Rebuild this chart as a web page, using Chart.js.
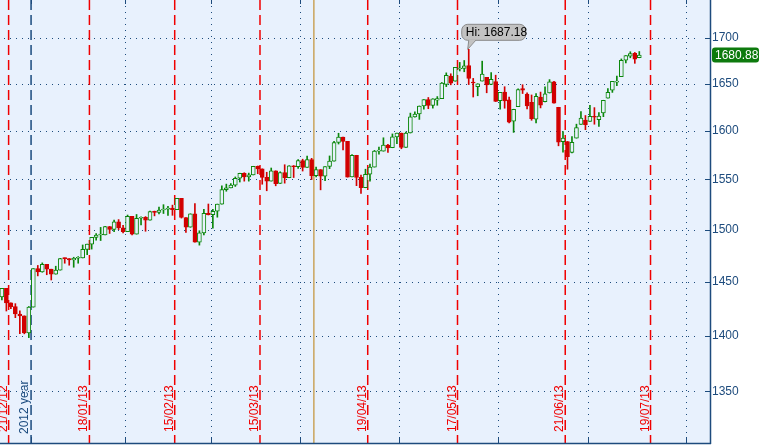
<!DOCTYPE html>
<html>
<head>
<meta charset="utf-8">
<script src="https://cdn.jsdelivr.net/npm/chart.js@4.4.0/dist/chart.umd.min.js"></script>
<style>
  html, body { margin: 0; padding: 0; background: #fff; overflow: hidden; }
  canvas { display: block; }
</style>
</head>
<body>
<canvas id="chart" width="761" height="446"></canvas>
<script>
// daily candles, 20/12/12 .. 17/07/13
const dates = [
  '20/12/12','21/12/12','24/12/12','26/12/12','27/12/12','28/12/12','31/12/12',
  '02/01/13','03/01/13','04/01/13','07/01/13','08/01/13','09/01/13','10/01/13','11/01/13','14/01/13','15/01/13','16/01/13','17/01/13','18/01/13','22/01/13','23/01/13','24/01/13','25/01/13','28/01/13','29/01/13','30/01/13','31/01/13',
  '01/02/13','04/02/13','05/02/13','06/02/13','07/02/13','08/02/13','11/02/13','12/02/13','13/02/13','14/02/13','15/02/13','19/02/13','20/02/13','21/02/13','22/02/13','25/02/13','26/02/13','27/02/13','28/02/13',
  '01/03/13','04/03/13','05/03/13','06/03/13','07/03/13','08/03/13','11/03/13','12/03/13','13/03/13','14/03/13','15/03/13','18/03/13','19/03/13','20/03/13','21/03/13','22/03/13','25/03/13','26/03/13','27/03/13','28/03/13',
  '01/04/13','02/04/13','03/04/13','04/04/13','05/04/13','08/04/13','09/04/13','10/04/13','11/04/13','12/04/13','15/04/13','16/04/13','17/04/13','18/04/13','19/04/13','22/04/13','23/04/13','24/04/13','25/04/13','26/04/13','29/04/13','30/04/13',
  '01/05/13','02/05/13','03/05/13','06/05/13','07/05/13','08/05/13','09/05/13','10/05/13','13/05/13','14/05/13','15/05/13','16/05/13','17/05/13','20/05/13','21/05/13','22/05/13','23/05/13','24/05/13','28/05/13','29/05/13','30/05/13','31/05/13',
  '03/06/13','04/06/13','05/06/13','06/06/13','07/06/13','10/06/13','11/06/13','12/06/13','13/06/13','14/06/13','17/06/13','18/06/13','19/06/13','20/06/13','21/06/13','24/06/13','25/06/13','26/06/13','27/06/13','28/06/13',
  '01/07/13','02/07/13','03/07/13','05/07/13','08/07/13','09/07/13','10/07/13','11/07/13','12/07/13','15/07/13','16/07/13','17/07/13'
];
const open = [
  1435.81,1443.67,1430.15,1426.66,1419.83,1418.10,1402.43,
  1426.19,1462.42,1459.37,1466.47,1461.89,1457.15,1461.02,1472.12,1472.05,1470.67,1472.33,1472.63,1480.95,1485.98,1492.56,1494.81,1494.82,1502.96,1500.18,1507.84,1501.96,
  1498.11,1513.17,1495.71,1511.29,1512.12,1509.39,1517.93,1517.01,1519.43,1520.33,1521.38,1519.79,1530.94,1511.95,1502.42,1515.60,1487.85,1496.94,1515.99,
  1514.68,1518.20,1525.20,1539.79,1541.46,1544.26,1551.15,1556.22,1552.48,1554.52,1563.21,1560.70,1552.10,1548.34,1558.71,1545.90,1556.89,1551.69,1563.75,1562.86,
  1569.18,1562.17,1570.25,1553.69,1559.98,1553.26,1563.11,1568.61,1587.73,1593.30,1588.84,1552.53,1574.57,1552.03,1541.61,1555.25,1562.50,1578.78,1578.78,1585.16,1582.34,1593.58,
  1597.55,1582.77,1597.60,1614.40,1617.55,1625.95,1632.69,1626.69,1632.10,1633.75,1649.13,1658.07,1652.45,1665.71,1666.20,1669.39,1651.62,1646.67,1652.63,1656.57,1649.14,1652.13,
  1631.71,1640.73,1632.40,1609.94,1625.27,1644.67,1638.64,1629.94,1612.15,1635.52,1630.64,1639.77,1651.83,1624.62,1588.62,1588.77,1577.52,1592.27,1606.44,1611.12,
  1609.78,1614.29,1611.48,1618.65,1634.20,1642.89,1651.56,1657.41,1675.26,1679.59,1682.70,1677.91
];
const high = [
  1443.70,1443.70,1430.15,1429.42,1422.80,1418.10,1426.74,
  1462.43,1465.47,1467.94,1466.47,1461.89,1464.73,1472.30,1472.75,1472.05,1473.31,1473.96,1485.16,1485.98,1492.56,1496.13,1502.27,1503.26,1503.23,1509.35,1509.94,1504.19,
  1514.41,1513.17,1514.96,1512.53,1512.90,1518.31,1518.31,1522.29,1524.69,1523.14,1524.24,1530.94,1530.94,1511.95,1515.64,1525.84,1498.99,1520.08,1525.34,
  1519.99,1525.27,1543.47,1545.25,1545.78,1552.48,1556.27,1556.77,1556.39,1563.32,1563.62,1560.70,1557.25,1561.56,1558.71,1557.74,1564.91,1563.95,1564.07,1570.28,
  1570.57,1573.66,1571.47,1562.60,1559.98,1563.07,1573.89,1589.07,1597.35,1593.30,1588.84,1575.35,1574.57,1554.38,1560.33,1565.55,1579.58,1583.00,1592.64,1585.78,1596.65,1597.57,
  1597.55,1598.60,1618.46,1619.77,1626.03,1632.78,1635.01,1633.70,1636.00,1651.10,1661.49,1660.51,1667.47,1672.84,1674.93,1687.18,1655.50,1649.78,1674.21,1656.57,1661.91,1658.99,
  1640.42,1646.53,1635.53,1622.56,1644.40,1648.69,1640.13,1637.71,1639.25,1640.80,1646.50,1654.19,1652.45,1624.62,1599.19,1588.77,1593.79,1606.83,1620.07,1615.94,
  1626.61,1624.26,1618.97,1632.07,1644.68,1652.36,1657.92,1676.63,1680.19,1684.51,1683.73,1684.75
];
const low = [
  1432.82,1422.58,1424.66,1416.43,1401.80,1401.58,1398.11,
  1426.19,1455.53,1458.99,1456.62,1451.64,1457.15,1461.02,1467.58,1465.69,1463.76,1467.60,1472.63,1475.81,1481.16,1489.90,1489.46,1494.82,1496.33,1498.09,1500.11,1496.76,
  1498.11,1495.02,1495.71,1504.71,1498.49,1509.39,1513.61,1515.61,1515.93,1514.02,1514.14,1519.79,1511.41,1497.29,1502.42,1487.85,1485.01,1494.88,1514.46,
  1501.48,1512.29,1525.20,1538.11,1541.46,1542.94,1547.36,1548.24,1548.25,1554.52,1555.74,1545.13,1538.57,1548.34,1543.55,1545.90,1546.22,1551.69,1551.90,1561.08,
  1558.47,1562.17,1549.80,1552.52,1539.50,1548.63,1560.92,1568.61,1586.17,1579.97,1552.28,1552.53,1543.69,1536.03,1541.61,1548.19,1562.50,1575.80,1578.78,1577.56,1582.34,1586.50,
  1581.28,1582.77,1597.60,1614.21,1611.82,1622.70,1623.09,1623.71,1626.74,1633.75,1646.68,1648.60,1652.45,1663.52,1662.67,1648.86,1635.53,1636.88,1652.63,1640.05,1648.61,1630.74,
  1622.72,1623.62,1608.07,1598.23,1625.27,1639.26,1622.92,1610.92,1608.07,1623.96,1630.34,1639.77,1628.91,1584.32,1577.70,1560.33,1577.09,1592.27,1606.44,1601.06,
  1609.78,1606.77,1604.57,1614.71,1634.20,1640.46,1647.66,1657.41,1672.33,1677.89,1671.84,1677.91
];
const close = [
  1443.69,1430.15,1426.66,1419.83,1418.10,1402.43,1426.19,
  1462.42,1459.37,1466.47,1461.89,1457.15,1461.02,1472.12,1472.05,1470.68,1472.34,1472.63,1480.94,1485.98,1492.56,1494.81,1494.82,1502.96,1500.18,1507.84,1501.96,1498.11,
  1513.17,1495.71,1511.29,1512.12,1509.39,1517.93,1517.01,1519.43,1520.33,1521.38,1519.79,1530.94,1511.95,1502.42,1515.60,1487.85,1496.94,1515.99,1514.68,
  1518.20,1525.20,1539.79,1541.46,1544.26,1551.18,1556.22,1552.48,1554.52,1563.23,1560.70,1552.10,1548.34,1558.71,1545.80,1556.89,1551.69,1563.77,1562.85,1569.19,
  1562.17,1570.25,1553.69,1559.98,1553.28,1563.07,1568.61,1587.73,1593.37,1588.85,1552.36,1574.57,1552.01,1541.61,1555.25,1562.50,1578.78,1578.79,1585.16,1582.24,1593.61,1597.57,
  1582.70,1597.59,1614.42,1617.50,1625.96,1632.69,1626.67,1633.70,1633.77,1650.34,1658.78,1650.47,1667.47,1666.29,1669.16,1655.35,1650.51,1649.60,1660.06,1648.36,1654.41,1630.74,
  1640.42,1631.38,1608.90,1622.56,1643.38,1642.81,1626.13,1612.52,1636.36,1626.73,1639.04,1651.81,1628.93,1588.19,1592.43,1573.09,1588.03,1603.26,1613.20,1606.28,
  1614.96,1614.08,1615.41,1631.89,1640.46,1652.32,1652.62,1675.02,1680.19,1682.50,1676.26,1680.88
];

// axis ticks and markers (trading-day index, 0 = 21/12/12)
const yTicks = [1350, 1400, 1450, 1500, 1550, 1600, 1650, 1700];
const expiryIdx = [0, 18, 37, 56, 80, 100, 124, 143];
const expiryLabels = ['21/12/12', '18/01/13', '15/02/13', '15/03/13', '19/04/13', '17/05/13', '21/06/13', '19/07/13'];
const monthEndIdx = [26, 45, 65, 87, 109, 129, 151];
const yearIdx = 5;
const yearLabel = '2012 year';
const markerIdx = 68;

const FONT = "'Liberation Sans', Arial, sans-serif";
const PLOT_BG = '#e8f1fd';
const AXIS = '#1d4b7d';
const UP = '#0a870a';
const DOWN = '#d20000';

const xs = dates.map((d, i) => i - 1);
const isUp = close.map((c, i) => c >= open[i]);

const decor = {
  id: 'decor',
  beforeDraw(chart) {
    const { ctx, chartArea: a } = chart;
    ctx.save();
    ctx.fillStyle = PLOT_BG;
    ctx.fillRect(a.left, a.top, a.right - a.left, a.bottom - a.top);
    ctx.restore();
  },
  beforeDatasetsDraw(chart) {
    const { ctx, chartArea: a, scales: { x, y } } = chart;
    const line = (x1, y1, x2, y2) => { ctx.beginPath(); ctx.moveTo(x1, y1); ctx.lineTo(x2, y2); ctx.stroke(); };
    const px = i => x.getPixelForValue(i + 0.5);
    ctx.save();

    // dotted grid
    ctx.strokeStyle = AXIS;
    ctx.lineWidth = 1;
    ctx.setLineDash([1, 5]);
    yTicks.forEach(v => {
      const py = Math.round(y.getPixelForValue(v)) + 0.5;
      line(4, py, a.right - 12, py);
    });
    monthEndIdx.forEach(i => {
      const p = Math.round(px(i)) + 0.5;
      line(p, a.top + 6, p, a.bottom - 6);
    });

    // option expiry lines
    ctx.setLineDash([10, 5]);
    ctx.strokeStyle = '#f00000';
    ctx.lineWidth = 1.5;
    expiryIdx.forEach(i => line(px(i), a.top, px(i), a.bottom));

    // year line
    ctx.strokeStyle = '#1a4a7e';
    line(px(yearIdx), a.top, px(yearIdx), a.bottom);

    // marker line
    ctx.setLineDash([]);
    ctx.strokeStyle = '#c9a35c';
    line(px(markerIdx), a.top, px(markerIdx), a.bottom);

    // rotated labels
    ctx.font = '12px ' + FONT;
    ctx.textAlign = 'left';
    ctx.textBaseline = 'alphabetic';
    const vlabel = (text, xx, yy, color) => {
      ctx.save();
      ctx.translate(xx, yy);
      ctx.rotate(-Math.PI / 2);
      ctx.fillStyle = color;
      ctx.fillText(text, 0, 0);
      ctx.restore();
    };
    expiryIdx.forEach((i, k) => vlabel(expiryLabels[k], px(i) - 2, 432, '#f00000'));
    vlabel(yearLabel, px(yearIdx) - 3, 434, '#1a4a7e');
    ctx.restore();
  },
  afterDatasetsDraw(chart) {
    const { ctx, chartArea: a, scales: { x, y } } = chart;
    const line = (x1, y1, x2, y2) => { ctx.beginPath(); ctx.moveTo(x1, y1); ctx.lineTo(x2, y2); ctx.stroke(); };
    ctx.save();

    // axes
    ctx.strokeStyle = AXIS;
    ctx.lineWidth = 1.5;
    line(a.right + 0.5, a.top, a.right + 0.5, a.bottom + 1);
    line(a.left, a.bottom + 0.5, a.right + 1, a.bottom + 0.5);
    ctx.lineWidth = 1;
    yTicks.forEach(v => {
      const py = Math.round(y.getPixelForValue(v)) + 0.5;
      line(a.right - 5, py, a.right, py);
    });
    monthEndIdx.concat([yearIdx]).forEach(i => {
      const p = Math.round(x.getPixelForValue(i + 0.5)) + 0.5;
      line(p, a.bottom - 6, p, a.bottom);
      line(p, a.top, p, a.top + 4);
    });

    // high callout
    let hi = 0;
    high.forEach((h, i) => { if (h > high[hi]) hi = i; });
    const tx = x.getPixelForValue(xs[hi]);
    const ty = y.getPixelForValue(high[hi]);
    const bx = tx - 7, by = ty - 25, bw = 64, bh = 16;
    ctx.beginPath();
    ctx.roundRect(bx, by, bw, bh, 6);
    ctx.fillStyle = '#c2c2c2';
    ctx.fill();
    ctx.strokeStyle = '#8a8a8a';
    ctx.stroke();
    ctx.beginPath();
    ctx.moveTo(bx + 7, by + bh - 0.5);
    ctx.lineTo(tx - 1, ty);
    ctx.lineTo(bx + 14, by + bh - 0.5);
    ctx.closePath();
    ctx.fillStyle = '#c2c2c2';
    ctx.fill();
    ctx.beginPath();
    ctx.moveTo(bx + 7, by + bh);
    ctx.lineTo(tx - 1, ty);
    ctx.lineTo(bx + 14, by + bh);
    ctx.stroke();
    ctx.fillStyle = '#000';
    ctx.font = '12px ' + FONT;
    ctx.textBaseline = 'middle';
    ctx.textAlign = 'left';
    ctx.fillText('Hi: ' + high[hi].toFixed(2), bx + 4, by + bh / 2 + 0.5);

    // last price tag
    const last = close[close.length - 1];
    const ly = y.getPixelForValue(last);
    ctx.beginPath();
    ctx.roundRect(a.right + 2, ly - 7.5, 47, 15, 3);
    ctx.fillStyle = '#0d7a0d';
    ctx.fill();
    ctx.fillStyle = '#fff';
    ctx.fillText(last.toFixed(2), a.right + 5, ly + 0.5);
    ctx.restore();
  }
};

new Chart(document.getElementById('chart'), {
  type: 'bar',
  data: {
    labels: dates,
    datasets: [
      {
        label: 'range',
        data: xs.map((xv, i) => ({ x: xv, y: [low[i], high[i]] })),
        backgroundColor: isUp.map(u => u ? UP : DOWN),
        barThickness: 1,
        grouped: false,
        order: 2
      },
      {
        label: 'body',
        data: xs.map((xv, i) => ({ x: xv, y: [open[i], close[i]] })),
        backgroundColor: isUp.map(u => u ? PLOT_BG : DOWN),
        borderColor: isUp.map(u => u ? UP : DOWN),
        borderWidth: 1,
        borderSkipped: false,
        barThickness: 4,
        minBarLength: 1,
        grouped: false,
        order: 1
      }
    ]
  },
  options: {
    responsive: false,
    animation: false,
    events: [],
    layout: { padding: { top: 0, left: 0, right: 0, bottom: 3 } },
    plugins: { legend: { display: false }, tooltip: { enabled: false } },
    scales: {
      x: {
        type: 'linear',
        display: false,
        offset: false,
        min: -1.42,
        max: 156.75
      },
      y: {
        type: 'logarithmic',
        position: 'right',
        min: 1305.3,
        max: 1742.3,
        afterBuildTicks: s => { s.ticks = yTicks.map(v => ({ value: v })); },
        afterFit: s => { s.width = 51; s.paddingTop = 0; s.paddingBottom = 0; },
        grid: { display: false, drawTicks: false },
        border: { display: false },
        ticks: {
          color: AXIS,
          font: { family: FONT, size: 12 },
          padding: 2,
          autoSkip: false,
          callback: v => String(v)
        }
      }
    }
  },
  plugins: [decor]
});
</script>
</body>
</html>
